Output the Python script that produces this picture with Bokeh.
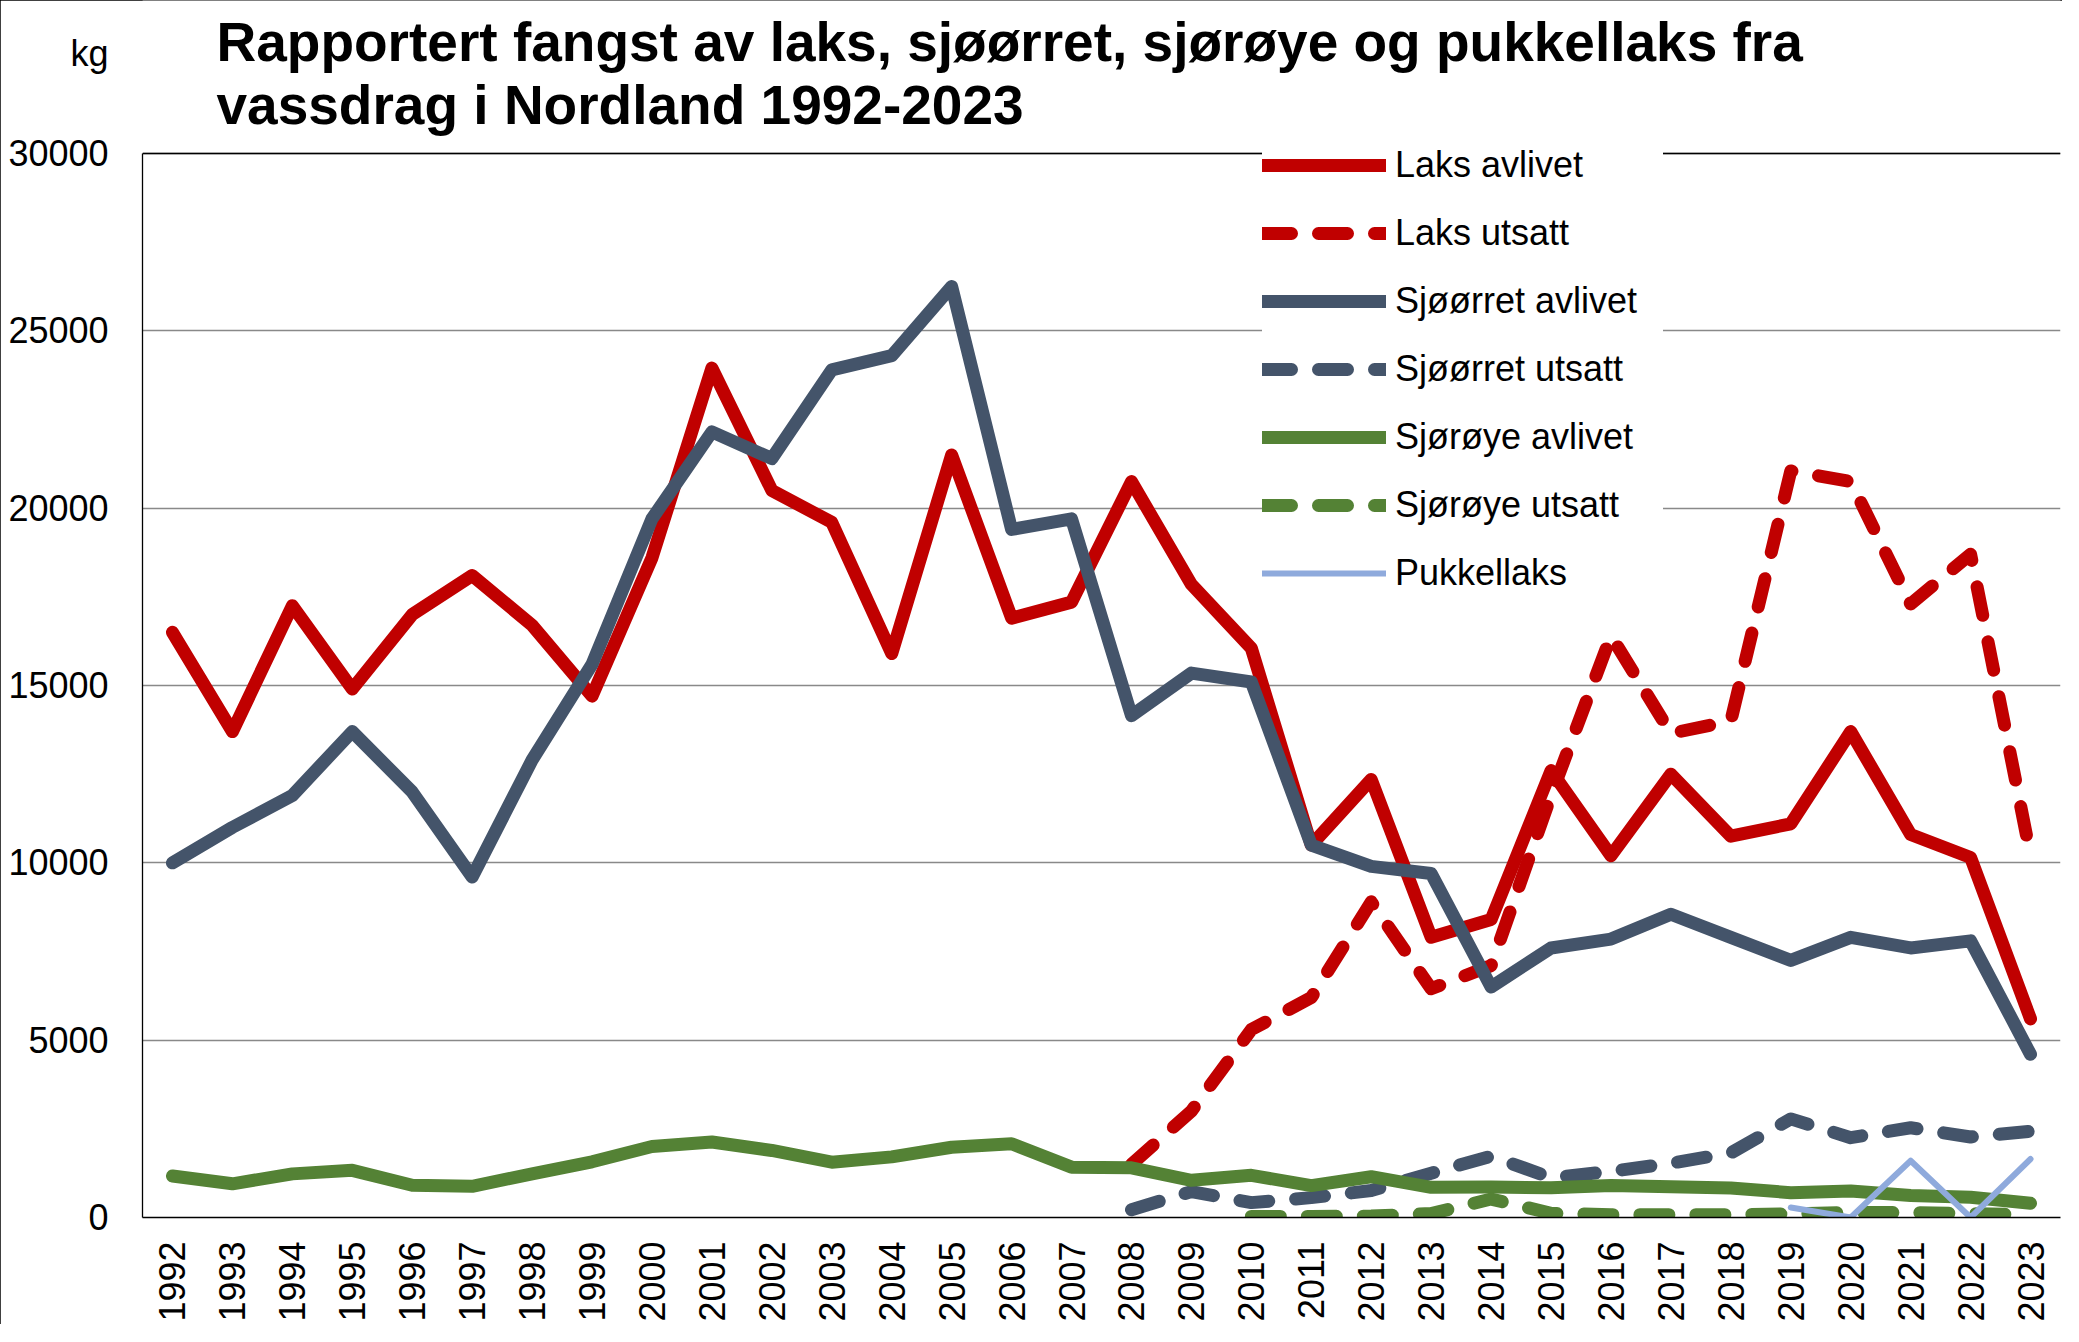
import math
from bokeh.plotting import figure
from bokeh.models import Range1d, FixedTicker, Legend, LegendItem, Span, LinearAxis
from bokeh.core.properties import value
from bokeh.embed import file_html
from bokeh.resources import INLINE

# ---------------- data ----------------
years = [1992, 1993, 1994, 1995, 1996, 1997, 1998, 1999, 2000, 2001, 2002, 2003,
         2004, 2005, 2006, 2007, 2008, 2009, 2010, 2011, 2012, 2013, 2014, 2015,
         2016, 2017, 2018, 2019, 2020, 2021, 2022, 2023]

laks_avlivet = [16500, 13700, 17250, 14900, 17000, 18100, 16700, 14700, 18600, 23950,
                20500, 19600, 15900, 21500, 16900, 17350, 20750, 17850, 16050, 10500,
                12350, 7900, 8400, 12600, 10200, 12500, 10750, 11100, 13700, 10800,
                10150, 5600]

laks_utsatt = [None, None, None, None, None, None, None, None, None, None, None, None,
               None, None, None, None, 1500, 3000, 5300, 6200, 8900, 6450, 7100, 11900,
               16400, 13650, 14000, 21050, 20750, 17300, 18700, 10200]

sjoorret_avlivet = [10000, 11000, 11900, 13700, 12000, 9600, 12900, 15600, 19700, 22150,
                    21400, 23900, 24300, 26250, 19400, 19700, 14150, 15350, 15100, 10500,
                    9900, 9700, 6500, 7600, 7850, 8550, 7900, 7250, 7900, 7600, 7800, 4600]

sjoorret_utsatt = [None, None, None, None, None, None, None, None, None, None, None, None,
                   None, None, None, None, 220, 730, 420, 560, 760, 1250, 1730, 1120,
                   1300, 1530, 1820, 2780, 2250, 2530, 2270, 2430]

sjoroye_avlivet = [1170, 950, 1230, 1330, 910, 880, 1230, 1570, 2000, 2130, 1890, 1560,
                   1710, 1980, 2080, 1420, 1400, 1050, 1190, 900, 1150, 850, 860, 840,
                   900, 870, 830, 700, 750, 620, 570, 400]

sjoroye_utsatt = [None, None, None, None, None, None, None, None, None, None, None, None,
                  None, None, None, None, None, None, 30, 30, 40, 110, 520, 120,
                  80, 80, 80, 100, 140, 140, 110, 80]

pukkellaks = [None, None, None, None, None, None, None, None, None, None, None, None,
              None, None, None, None, None, None, None, None, None, None, None, None,
              None, None, None, 280, 0, 1600, 0, 1650]

y_ticks = [0, 5000, 10000, 15000, 20000, 25000, 30000]

title_line1 = "Rapportert fangst av laks, sjøørret, sjørøye og pukkellaks fra"
title_line2 = "vassdrag i Nordland 1992-2023"
y_unit = "kg"

series = [
    ("Laks avlivet", laks_avlivet, "#C00000", 13, "solid"),
    ("Laks utsatt", laks_utsatt, "#C00000", 13, "29 27"),
    ("Sjøørret avlivet", sjoorret_avlivet, "#44546A", 13, "solid"),
    ("Sjøørret utsatt", sjoorret_utsatt, "#44546A", 13, "29 27"),
    ("Sjørøye avlivet", sjoroye_avlivet, "#548235", 13, "solid"),
    ("Sjørøye utsatt", sjoroye_utsatt, "#548235", 13, "29 27"),
    ("Pukkellaks", pukkellaks, "#8FAADC", 6, "solid"),
]

FONT = "Liberation Sans"

# ---------------- layout constants (pixels) ----------------
W, H = 2062, 1324
LEFT, RIGHT, BOTTOM = 142, 2, 107
FRAME_W = W - LEFT - RIGHT
FRAME_BOTTOM = H - BOTTOM          # pixel row of value 0
TOP_LINE_PX = 153                  # pixel row of value 30000
X0, X1 = 1991.5, 2023.5
Y_TOP = 30000 * FRAME_BOTTOM / (FRAME_BOTTOM - TOP_LINE_PX)


def px_x(px):
    return X0 + (px - LEFT) * (X1 - X0) / FRAME_W


def px_y(py):
    return Y_TOP * (FRAME_BOTTOM - py) / FRAME_BOTTOM


p = figure(width=W, height=H, output_backend="svg", toolbar_location=None,
           x_range=Range1d(X0, X1), y_range=Range1d(0, Y_TOP),
           title_location=None,
           min_border_left=LEFT, min_border_right=RIGHT, min_border_top=0,
           min_border_bottom=BOTTOM)
p.outline_line_color = None
p.background_fill_color = "white"
p.border_fill_color = "white"
p.styles = {"outline": "1px solid black", "outline-offset": "-1px"}

# x axis
p.xaxis.ticker = FixedTicker(ticks=years)
p.xaxis.major_label_orientation = math.pi / 2
p.xaxis.major_label_text_font = FONT
p.xaxis.major_label_text_font_size = "36px"
p.xaxis.major_label_text_color = "black"
p.xaxis.major_label_standoff = 24
p.xaxis.axis_line_color = "black"
p.xaxis.axis_line_width = 1.3

# inner y axis: only the axis line, from 0 to 30000
ya = p.yaxis[0]
ya.ticker = FixedTicker(ticks=[])
ya.bounds = (0, 30000)
ya.axis_line_color = "black"
ya.axis_line_width = 1.3
ya.major_label_standoff = 0

# outer y axis: the value labels plus the unit
kg_pos = px_y(53)
yb = LinearAxis(ticker=FixedTicker(ticks=y_ticks + [kg_pos]),
                major_label_overrides={kg_pos: y_unit},
                axis_line_color=None, major_label_standoff=34,
                major_label_text_font=FONT, major_label_text_font_size="36px",
                major_label_text_color="black")
p.add_layout(yb, "left")

for ax in (p.xaxis[0], ya, yb):
    ax.major_tick_out = 0
    ax.major_tick_in = 0
    ax.minor_tick_out = 0
    ax.minor_tick_in = 0

p.xgrid.grid_line_color = None
p.ygrid.ticker = FixedTicker(ticks=y_ticks)
p.ygrid.grid_line_color = "#898989"
p.ygrid.grid_line_width = 1.3

p.add_layout(Span(location=30000, dimension="width", line_color="black", line_width=1.3))

# title (two lines)
for txt, py in ((title_line1, 41), (title_line2, 104)):
    p.text(x=[px_x(216)], y=[px_y(py)], text=[txt], text_font=value(FONT),
           text_font_style="bold", text_font_size="55px", text_color="black",
           text_baseline="alphabetic", text_align="left")

items = []
for name, vals, color, lw, dash in series:
    ys = [float("nan") if v is None else v for v in vals]
    r = p.line(years, ys, line_color=color, line_width=lw, line_cap="round",
               line_join="round", line_dash=dash)
    items.append(LegendItem(label=name, renderers=[r]))

legend = Legend(items=items, location=(1120, 610), padding=20, spacing=0, margin=0,
                glyph_width=124, glyph_height=68, label_height=68, label_standoff=9,
                label_width=268,
                label_text_font=FONT, label_text_font_size="36px",
                label_text_color="black", border_line_color=None,
                background_fill_color="white", background_fill_alpha=1.0)
p.add_layout(legend)

open("out.html", "w").write(file_html(p, INLINE))
